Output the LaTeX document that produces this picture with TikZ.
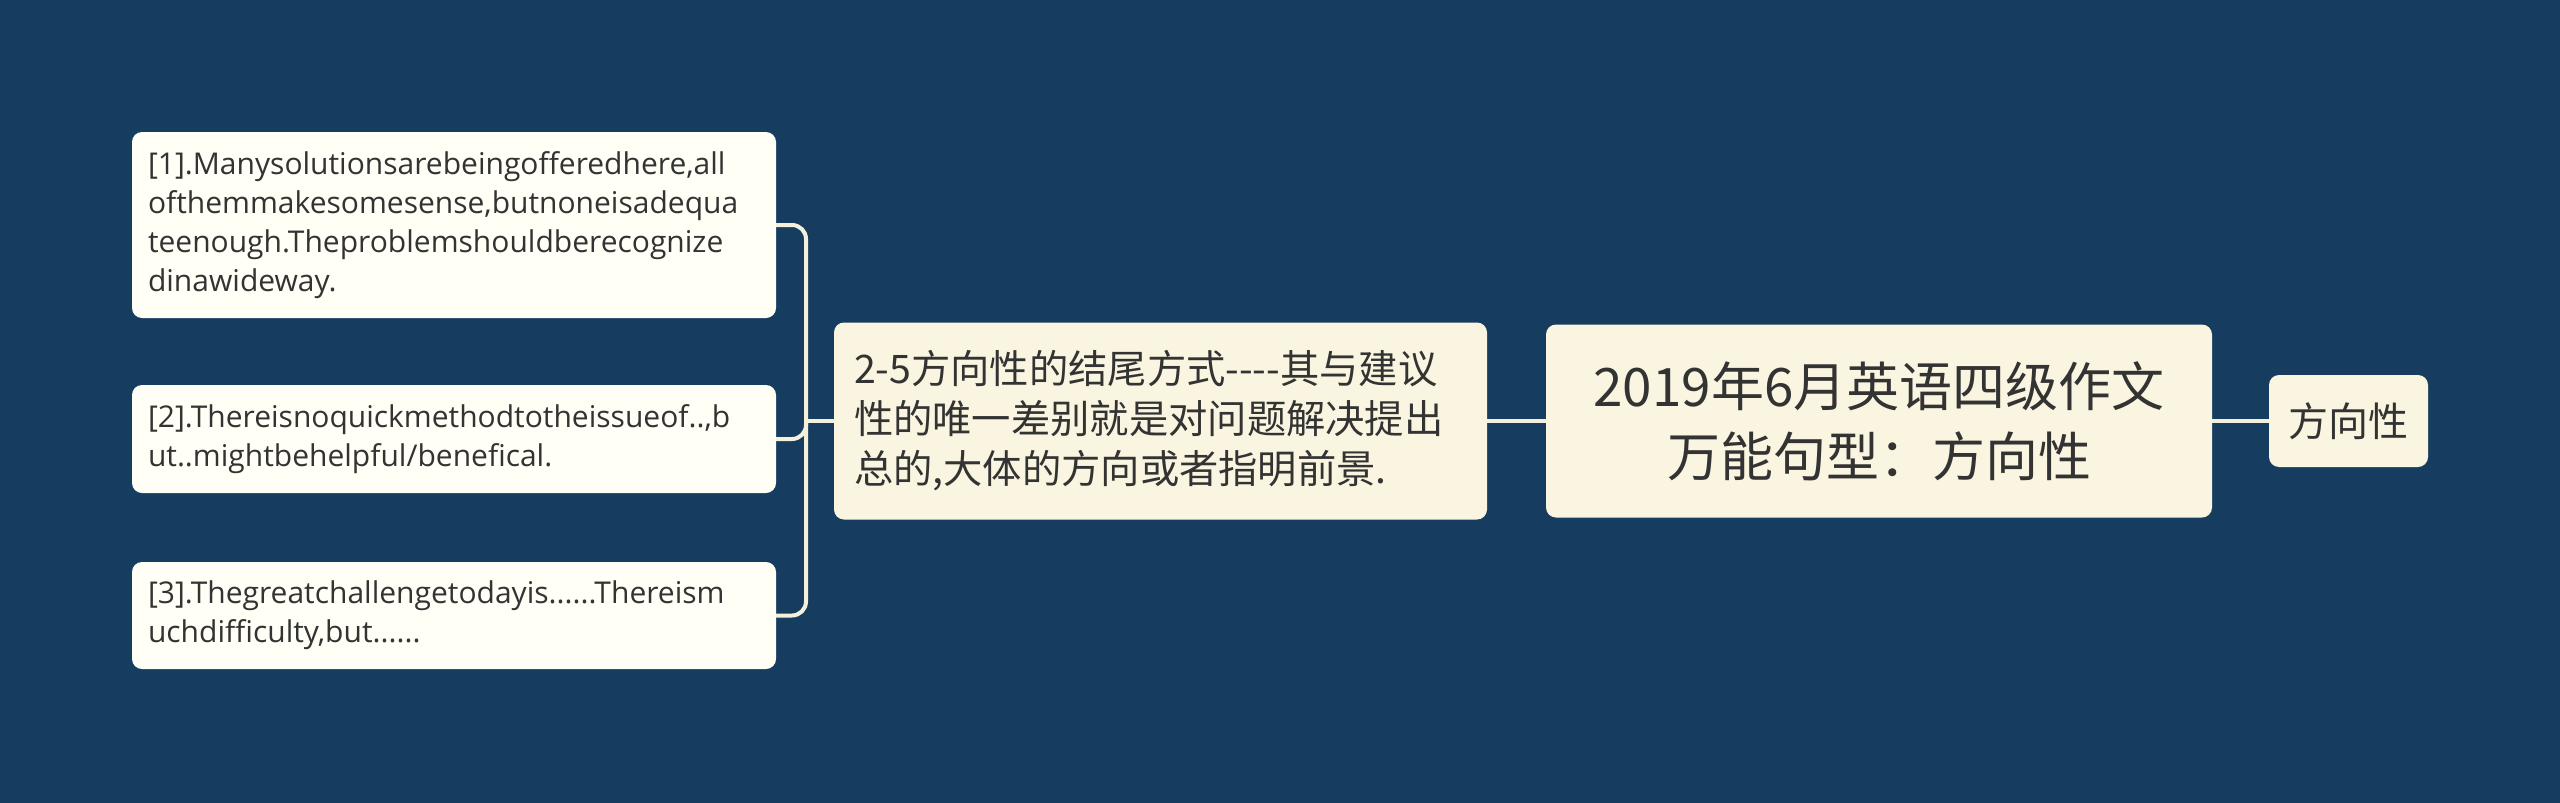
\documentclass[tikz,border=0pt]{standalone}
\usepackage{fontspec}
\setmainfont{Open Sans}
\newfontfamily\cjk{Noto Sans CJK SC}
\definecolor{bgnavy}{HTML}{163D5F}
\definecolor{cream}{HTML}{FAF5E0}
\definecolor{leafwhite}{HTML}{FFFFF6}
\definecolor{linecream}{HTML}{F4F0DC}
\definecolor{textgray}{HTML}{333333}

\begin{document}
\begin{tikzpicture}[x=1pt,y=-1pt,
  box/.style={rounded corners=10pt,text=textgray,inner ysep=0pt},
  leaf/.style={box,fill=leafwhite,inner xsep=16pt,text width=612pt,align=left,
    font=\fontsize{30}{39}\selectfont},
  link/.style={draw=linecream,line width=4pt}]
\fill[bgnavy] (0,0) rectangle (2560,803);
\useasboundingbox (0,0) rectangle (2560,803);

\node[box,fill=cream,minimum width=666pt,minimum height=193pt,align=center,
  font=\cjk\fontsize{53}{70}\selectfont] (11) at (1879,421)
  {2019年6月英语四级作文\\万能句型：方向性};

\node[box,fill=cream,inner xsep=20pt,text width=613pt,minimum height=197pt,align=left,
  font=\cjk\fontsize{39.3}{50}\selectfont] (21) at (1160.5,421)
  {2-5方向性的结尾方式----其与建议\\性的唯一差别就是对问题解决提出\\总的,大体的方向或者指明前景.};
\node[box,fill=cream,minimum width=159pt,minimum height=92pt,
  font=\cjk\fontsize{40}{50}\selectfont] (22) at (2348.5,421) {方向性};

\node[leaf,minimum height=186pt] (31) at (454,225)
  {[1].Manysolutionsarebeingofferedhere,all\\ofthemmakesomesense,butnoneisadequa\\teenough.Theproblemshouldberecognize\\dinawideway.};
\node[leaf,minimum height=108pt] (32) at (454,439)
  {[2].Thereisnoquickmethodtotheissueof..,b\\ut..mightbehelpful/benefical.};
\node[leaf,minimum height=107pt] (33) at (454,615.5)
  {[3].Thegreatchallengetodayis......Thereism\\uchdifficulty,but......};

\coordinate (fork) at (806,421);

\draw[link] (11.west) -- (21.east);
\draw[link] (11.east) -- (22.west);
\draw[link] (21.west) -- (fork);
\draw[link,rounded corners=14pt] (31.east) -| (fork);
\draw[link,rounded corners=14pt] (32.east) -| (fork);
\draw[link,rounded corners=14pt] (33.east) -| (fork);
\end{tikzpicture}
\end{document}
